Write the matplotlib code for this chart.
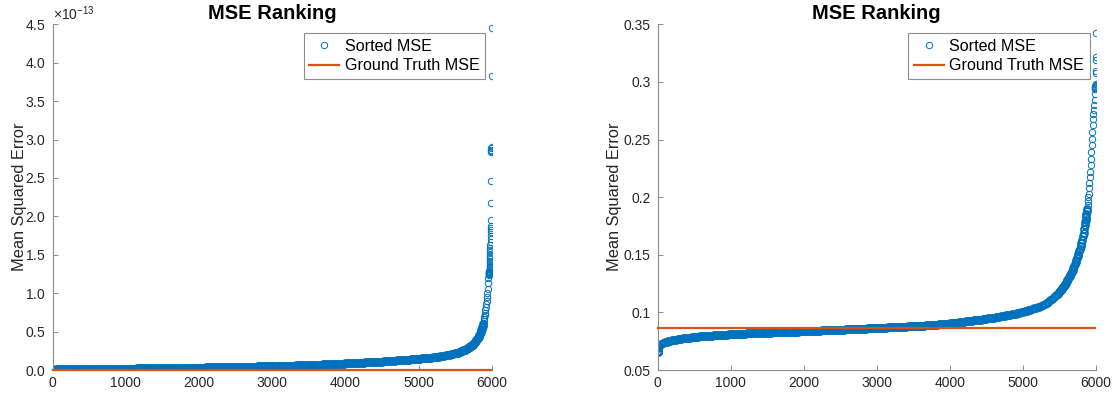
import numpy as np
import matplotlib
matplotlib.use("Agg")
import matplotlib.pyplot as plt
from matplotlib.ticker import ScalarFormatter

plt.rcParams['font.family'] = ['Liberation Sans', 'DejaVu Sans']
plt.rcParams['mathtext.fontset'] = 'custom'
plt.rcParams['mathtext.rm'] = 'Liberation Sans'
plt.rcParams['mathtext.it'] = 'Liberation Sans:italic'
plt.rcParams['mathtext.bf'] = 'Liberation Sans:bold'

# ---------------- data ----------------
title_text = "MSE Ranking"
ylabel_text = "Mean Squared Error"
legend_labels = ["Sorted MSE", "Ground Truth MSE"]
x_ticks = [0, 1000, 2000, 3000, 4000, 5000, 6000]

# Left panel (values in units of 1e-13), sorted MSE sampled by rank
left_rank = ([1, 2, 5] + list(range(25, 5501, 25)) + list(range(5510, 5851, 10))
             + list(range(5855, 5961, 5)) + list(range(5962, 6001)))
left_mse_e13 = [
    0.000, 0.002, 0.004,
    # 25 .. 100
    0.0060, 0.0066, 0.0072, 0.0078,
    # 125 .. 500
    0.0081, 0.0084, 0.0087, 0.0090, 0.0093, 0.0096, 0.0099, 0.0102,
    0.0105, 0.0108, 0.0111, 0.0114, 0.0117, 0.0120, 0.0123, 0.0126,
    # 525 .. 1000
    0.0129, 0.0132, 0.0134, 0.0137, 0.0140, 0.0142, 0.0145, 0.0148, 0.0150, 0.0153,
    0.0156, 0.0158, 0.0161, 0.0164, 0.0167, 0.0169, 0.0172, 0.0175, 0.0177, 0.0180,
    # 1025 .. 1500
    0.0183, 0.0186, 0.0189, 0.0192, 0.0195, 0.0198, 0.0201, 0.0204, 0.0207, 0.0210,
    0.0213, 0.0216, 0.0219, 0.0222, 0.0225, 0.0228, 0.0231, 0.0234, 0.0237, 0.0240,
    # 1525 .. 2000
    0.0244, 0.0247, 0.0251, 0.0254, 0.0258, 0.0261, 0.0265, 0.0268, 0.0272, 0.0275,
    0.0279, 0.0282, 0.0286, 0.0289, 0.0293, 0.0296, 0.0300, 0.0303, 0.0307, 0.0310,
    # 2025 .. 2500
    0.0315, 0.0319, 0.0324, 0.0328, 0.0333, 0.0337, 0.0342, 0.0346, 0.0351, 0.0355,
    0.0360, 0.0364, 0.0369, 0.0373, 0.0378, 0.0382, 0.0387, 0.0391, 0.0396, 0.0400,
    # 2525 .. 3000
    0.0405, 0.0410, 0.0415, 0.0420, 0.0425, 0.0430, 0.0435, 0.0440, 0.0445, 0.0450,
    0.0455, 0.0460, 0.0465, 0.0470, 0.0475, 0.0480, 0.0485, 0.0490, 0.0495, 0.0500,
    # 3025 .. 3500
    0.0507, 0.0514, 0.0521, 0.0528, 0.0535, 0.0542, 0.0549, 0.0556, 0.0563, 0.0570,
    0.0577, 0.0584, 0.0591, 0.0598, 0.0605, 0.0612, 0.0619, 0.0626, 0.0633, 0.0640,
    # 3525 .. 4000
    0.0650, 0.0661, 0.0671, 0.0682, 0.0692, 0.0703, 0.0713, 0.0724, 0.0734, 0.0745,
    0.0755, 0.0766, 0.0776, 0.0787, 0.0797, 0.0808, 0.0818, 0.0829, 0.0839, 0.0850,
    # 4025 .. 4500
    0.0862, 0.0875, 0.0887, 0.0900, 0.0912, 0.0925, 0.0937, 0.0950, 0.0962, 0.0975,
    0.0987, 0.1000, 0.1012, 0.1025, 0.1037, 0.1050, 0.1062, 0.1075, 0.1087, 0.1100,
    # 4525 .. 5000
    0.1117, 0.1135, 0.1152, 0.1170, 0.1187, 0.1205, 0.1222, 0.1240, 0.1257, 0.1275,
    0.1292, 0.1310, 0.1327, 0.1345, 0.1362, 0.1380, 0.1397, 0.1415, 0.1432, 0.1450,
    # 5025 .. 5500
    0.1475, 0.1500, 0.1525, 0.1550, 0.1575, 0.1600, 0.1625, 0.1650,
    0.1683, 0.1715, 0.1748, 0.1780,
    0.1822, 0.1865, 0.1907, 0.1950,
    0.2000, 0.2050, 0.2100, 0.2150,
    # 5510 .. 5850
    0.2180, 0.2210, 0.2240, 0.2270, 0.2305, 0.2340, 0.2375, 0.2415, 0.2455, 0.2500,
    0.2540, 0.2580, 0.2620, 0.2665, 0.2710, 0.2760, 0.2810, 0.2865, 0.2930, 0.3000,
    0.3075, 0.3150, 0.3230, 0.3315, 0.3400,
    0.3510, 0.3620, 0.3740, 0.3870, 0.4000,
    0.4160, 0.4330, 0.4510, 0.4700, 0.4900,
    # 5855 .. 5960
    0.505, 0.522, 0.540, 0.558, 0.577, 0.596, 0.616, 0.640, 0.665, 0.690, 0.715,
    0.745, 0.780, 0.820, 0.860, 0.900, 0.950, 1.000, 1.060, 1.130, 1.200, 1.240,
    # 5962 .. 6000
    1.245, 1.250, 1.255, 1.260, 1.265, 1.270, 1.280, 1.290, 1.300, 1.320,
    1.340, 1.360, 1.380, 1.400, 1.420, 1.440, 1.470, 1.500, 1.530, 1.560,
    1.590, 1.630, 1.670, 1.710, 1.750, 1.790, 1.820, 1.850, 1.870, 1.950,
    2.170, 2.460, 2.840, 2.855, 2.870, 2.885, 2.900, 3.830, 4.450,
]
left_gt_mse = 0.0
left_gt_range = [1, 5990]
left_ylim = (0, 4.5e-13)
left_yticks_e13 = [0, 0.5, 1, 1.5, 2, 2.5, 3, 3.5, 4, 4.5]
left_sparse_from_rank = 5885   # ranks from here on are drawn as individual rings

# Right panel, sorted MSE sampled by rank
right_rank = ([1, 2, 3, 5, 10, 15] + list(range(25, 5501, 25)) + list(range(5510, 5851, 10))
              + list(range(5855, 5991, 5)) + list(range(5991, 6001)))
right_mse = [
    0.0655, 0.0660, 0.0668, 0.0690, 0.0700, 0.0706,
    # 25 .. 300
    0.0712, 0.0724, 0.0732, 0.0739, 0.0745, 0.0750, 0.0754, 0.0758, 0.0761, 0.0764, 0.0767, 0.0770,
    # 325 .. 1000
    0.0772, 0.0774, 0.0776, 0.0778,
    0.0780, 0.0782, 0.0784, 0.0786,
    0.0788, 0.0789, 0.0791, 0.0792,
    0.0793, 0.0795, 0.0796, 0.0797,
    0.0798, 0.0799, 0.0801, 0.0802,
    0.0803, 0.0804, 0.0805, 0.0806,
    0.0807, 0.0808, 0.0809, 0.0810,
    # 1025 .. 1500
    0.0811, 0.0811, 0.0812, 0.0813, 0.0814, 0.0814, 0.0815, 0.0816, 0.0817, 0.0817,
    0.0818, 0.0819, 0.0820, 0.0820, 0.0821, 0.0822, 0.0822, 0.0823, 0.0824, 0.0824,
    # 1525 .. 2000
    0.0825, 0.0825, 0.0826, 0.0826, 0.0827, 0.0828, 0.0828, 0.0829, 0.0829, 0.0830,
    0.0831, 0.0831, 0.0832, 0.0832, 0.0833, 0.0834, 0.0834, 0.0835, 0.0835, 0.0836,
    # 2025 .. 2500
    0.0837, 0.0837, 0.0838, 0.0839, 0.0839, 0.0840, 0.0841, 0.0842, 0.0842, 0.0843,
    0.0844, 0.0844, 0.0845, 0.0846, 0.0847, 0.0847, 0.0848, 0.0849, 0.0849, 0.0850,
    # 2525 .. 3000
    0.0851, 0.0851, 0.0852, 0.0853, 0.0853, 0.0854, 0.0855, 0.0856, 0.0856, 0.0857,
    0.0858, 0.0858, 0.0859, 0.0860, 0.0861, 0.0861, 0.0862, 0.0863, 0.0863, 0.0864,
    # 3025 .. 3500
    0.0865, 0.0866, 0.0866, 0.0867, 0.0868, 0.0869, 0.0870, 0.0870, 0.0871, 0.0872,
    0.0873, 0.0874, 0.0874, 0.0875, 0.0876, 0.0877, 0.0878, 0.0878, 0.0879, 0.0880,
    # 3525 .. 4000
    0.0881, 0.0882, 0.0883, 0.0884, 0.0885, 0.0886, 0.0887, 0.0888, 0.0889, 0.0890,
    0.0891, 0.0892, 0.0893, 0.0895, 0.0896, 0.0898, 0.0899, 0.0901, 0.0903, 0.0905,
    # 4025 .. 4300
    0.0907, 0.0909, 0.0910, 0.0912, 0.0914, 0.0916, 0.0918, 0.0920, 0.0922, 0.0924, 0.0926, 0.0928,
    # 4325 .. 4600
    0.0930, 0.0932, 0.0934, 0.0936, 0.0938, 0.0940, 0.0942, 0.0944, 0.0947, 0.0949, 0.0952, 0.0955,
    # 4625 .. 4900
    0.0957, 0.0960, 0.0962, 0.0965, 0.0967, 0.0970, 0.0973, 0.0976, 0.0979, 0.0982, 0.0986, 0.0990,
    # 4925 .. 5100
    0.0994, 0.0998, 0.1002, 0.1006, 0.1010, 0.1015, 0.1020, 0.1025,
    # 5125 .. 5300
    0.1030, 0.1035, 0.1040, 0.1045, 0.1051, 0.1057, 0.1063, 0.1070,
    # 5325 .. 5500
    0.1082, 0.1094, 0.1106, 0.1118, 0.1132, 0.1147, 0.1163, 0.1180,
    # 5510 .. 5850
    0.1188, 0.1196, 0.1204, 0.1212, 0.1221, 0.1230, 0.1239, 0.1249, 0.1259, 0.1270,
    0.1281, 0.1292, 0.1304, 0.1316, 0.1328, 0.1340, 0.1353, 0.1366, 0.1383, 0.1400,
    0.1417, 0.1434, 0.1452, 0.1471, 0.1490,
    0.1510, 0.1531, 0.1553, 0.1576, 0.1600,
    0.1629, 0.1659, 0.1690, 0.1724, 0.1760,
    # 5855 .. 5990
    0.1782, 0.1805, 0.1828, 0.1852, 0.1876, 0.1900, 0.1932, 0.1965, 0.1997, 0.2030,
    0.2077, 0.2125, 0.2172, 0.2220, 0.2278, 0.2335, 0.2392, 0.2450, 0.2508, 0.2565,
    0.2622, 0.2680, 0.2720, 0.2760, 0.2800, 0.2847, 0.2894, 0.2940,
    # 5991 .. 6000
    0.2945, 0.2955, 0.2965, 0.2974, 0.2985, 0.3075, 0.3096, 0.3190, 0.3220, 0.3423,
]
right_gt_mse = 0.0862
right_gt_range = [1, 5990]
right_ylim = (0.05, 0.35)
right_yticks = [0.05, 0.1, 0.15, 0.2, 0.25, 0.3, 0.35]
right_sparse_from_rank = 5885

if len(left_rank) != len(left_mse_e13):
    raise ValueError(f"left length mismatch {len(left_rank)} vs {len(left_mse_e13)}")
if len(right_rank) != len(right_mse):
    raise ValueError(f"right length mismatch {len(right_rank)} vs {len(right_mse)}")

left_mse = np.array(left_mse_e13) * 1e-13

# ---------------- style ----------------
BLUE = '#0072BD'
ORANGE = '#D95319'
AXCOL = '#8c8c8c'
TXT = '#262626'

W, H = 1117, 401
fig = plt.figure(figsize=(W / 100, H / 100), dpi=100)


def frac_box(x0, x1, ytop, ybot):
    return [x0 / W, 1 - ybot / H, (x1 - x0) / W, (ybot - ytop) / H]


axL = fig.add_axes(frac_box(52.7, 491.7, 24.3, 370))
axR = fig.add_axes(frac_box(657.5, 1096, 24.3, 370))


def style_axes(ax, ylabel_x):
    for s in ['top', 'right']:
        ax.spines[s].set_visible(False)
    for s in ['left', 'bottom']:
        ax.spines[s].set_color(AXCOL)
        ax.spines[s].set_linewidth(0.8)
    ax.tick_params(direction='in', length=3.5, width=0.7, color=AXCOL,
                   labelcolor=TXT, labelsize=10)
    ax.tick_params(axis='x', pad=4)
    ax.tick_params(axis='y', pad=5)
    ax.set_xlim(0, 6000)
    ax.set_xticks(x_ticks)
    ax.set_title(title_text, fontsize=14.5, fontweight='bold', color='black', pad=4)
    ax.set_ylabel(ylabel_text, fontsize=11.8, color=TXT)
    ax.yaxis.set_label_coords(ylabel_x, 0.5)


def draw(ax, ranks, vals, sparse_from, gt, gt_range, legend_anchor):
    ranks = np.asarray(ranks)
    vals = np.asarray(vals)
    dense = ranks < sparse_from
    # densely packed part of the sorted curve (overlapping rings)
    ax.plot(ranks[dense], vals[dense], 'o', linestyle='none', markersize=5.0,
            markerfacecolor='none', markeredgecolor=BLUE, markeredgewidth=1.3,
            zorder=2)
    h1, = ax.plot(ranks[~dense], vals[~dense], 'o', linestyle='none', markersize=4.6,
                  markerfacecolor='none', markeredgecolor=BLUE, markeredgewidth=0.7,
                  label=legend_labels[0], zorder=2)
    h2, = ax.plot(gt_range, [gt, gt], '-', color=ORANGE, linewidth=1.6,
                  label=legend_labels[1], zorder=3, clip_on=False)
    leg = ax.legend(handles=[h1, h2], loc='upper right', bbox_to_anchor=legend_anchor,
                    borderaxespad=0, fontsize=11.6, frameon=True, fancybox=False,
                    edgecolor='#8c8c8c', framealpha=1, numpoints=1,
                    handlelength=1.85, handletextpad=0.35, borderpad=0.35,
                    labelspacing=0.3)
    leg.get_frame().set_linewidth(0.8)
    for t in leg.get_texts():
        t.set_color('black')


draw(axL, left_rank, left_mse, left_sparse_from_rank, left_gt_mse, left_gt_range, (0.985, 0.975))
axL.set_ylim(*left_ylim)
axL.set_yticks(np.array(left_yticks_e13) * 1e-13)
fmt = ScalarFormatter(useMathText=True)
fmt.set_powerlimits((-3, 3))
axL.yaxis.set_major_formatter(fmt)
style_axes(axL, -0.058)
axL.yaxis.get_offset_text().set_fontsize(10)
axL.yaxis.get_offset_text().set_color(TXT)

draw(axR, right_rank, right_mse, right_sparse_from_rank, right_gt_mse, right_gt_range, (0.986, 0.975))
axR.set_ylim(*right_ylim)
axR.set_yticks(right_yticks)
axR.set_yticklabels([f"{v:g}" for v in right_yticks])
style_axes(axR, -0.080)

fig.savefig('out.png', dpi=100)
